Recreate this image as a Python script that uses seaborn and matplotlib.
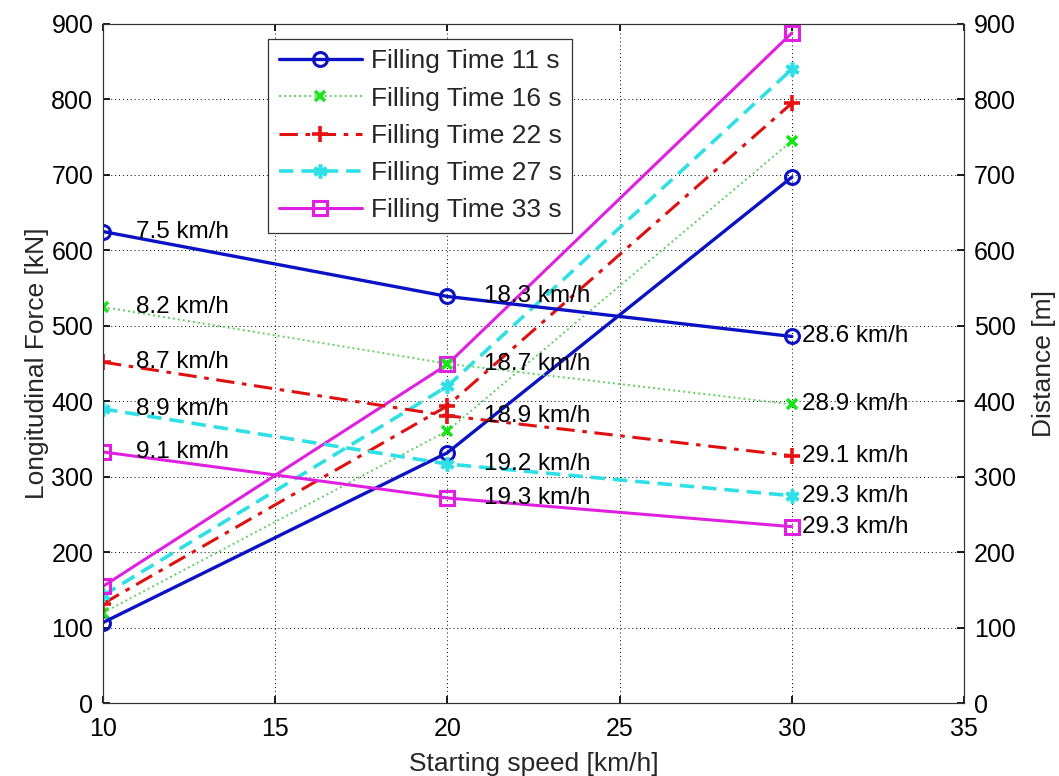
import matplotlib
matplotlib.use("Agg")
import matplotlib.pyplot as plt
import seaborn as sns
import pandas as pd

# Starting speeds [km/h]
speeds = [10, 20, 30]

# Filling times [s]
filling_times = [11, 16, 22, 27, 33]

# Longitudinal force [kN] per filling time
force_11 = [107, 332, 697]
force_16 = [120, 361, 745]
force_22 = [132, 394, 795]
force_27 = [143, 420, 840]
force_33 = [155, 449, 888]

# Stopping distance [m] per filling time
dist_11 = [625, 539, 486]
dist_16 = [525, 450, 396]
dist_22 = [452, 381, 328]
dist_27 = [390, 317, 275]
dist_33 = [333, 272, 234]

# Speed labels attached to the distance points [km/h]
speed_lbl_11 = ["7.5", "18.3", "28.6"]
speed_lbl_16 = ["8.2", "18.7", "28.9"]
speed_lbl_22 = ["8.7", "18.9", "29.1"]
speed_lbl_27 = ["8.9", "19.2", "29.3"]
speed_lbl_33 = ["9.1", "19.3", "29.3"]

forces = [force_11, force_16, force_22, force_27, force_33]
dists = [dist_11, dist_16, dist_22, dist_27, dist_33]
speed_lbls = [speed_lbl_11, speed_lbl_16, speed_lbl_22, speed_lbl_27, speed_lbl_33]

styles = [
    dict(color="#0b12c4", ls="-", lw=2.4, marker="o", ms=10, mfc="none", mew=2.2, mec="#0b12c4"),
    dict(color="#5fcf5f", ls=(0, (1, 1.6)), lw=1.4, marker="x", ms=7, mfc="none", mew=2.6, mec="#19e619"),
    dict(color="#e01010", ls=(0, (6, 2.5, 1.5, 2.5)), lw=2.2, marker="+", ms=12, mfc="none", mew=2.6, mec="#e81010"),
    dict(color="#2ee0e6", ls=(0, (4, 2.2)), lw=2.6, marker=(6, 2, 0), ms=10, mfc="#2ee0e6", mew=2.6, mec="#2ee0e6"),
    dict(color="#e020e0", ls="-", lw=2.2, marker="s", ms=10, mfc="none", mew=2.2, mec="#e020e0"),
]

sns.set_theme(style="white")
plt.rcParams["font.family"] = ["Liberation Sans", "DejaVu Sans"]
plt.rcParams["font.size"] = 18

fig = plt.figure(figsize=(10.59, 7.76), dpi=100)
ax = fig.add_axes([0.0973, 0.0937, 0.813, 0.8754])
ax2 = ax.twinx()

for ft, f, d, lbls, st in zip(filling_times, forces, dists, speed_lbls, styles):
    df = pd.DataFrame({"speed": speeds, "force": f, "dist": d})
    kw = dict(color=st["color"], linestyle=st["ls"], linewidth=st["lw"], marker=st["marker"],
              markersize=st["ms"], markerfacecolor=st["mfc"], markeredgewidth=st["mew"],
              markeredgecolor=st["mec"])
    sns.lineplot(data=df, x="speed", y="force", ax=ax, label=f"Filling Time {ft} s", **kw)
    sns.lineplot(data=df, x="speed", y="dist", ax=ax2, legend=False, **kw)
    for xs, ys, lb in zip(speeds, d, lbls):
        off = 0.3 if xs == 30 else (1.05 if xs == 20 else 0.95)
        ax2.text(xs + off, ys, f"{lb} km/h", fontsize=17.5, va="center", ha="left", color="black")

for a in (ax, ax2):
    a.set_xlim(10, 35)
    a.set_ylim(0, 900)
    a.set_yticks(range(0, 901, 100))
    a.tick_params(direction="in", length=5, labelsize=18, colors="black",
                  top=True, bottom=True)
    a.tick_params(axis="y", pad=7)
    a.tick_params(axis="x", pad=10)
    for s in a.spines.values():
        s.set_color("#333333")
        s.set_linewidth(0.8)

ax.set_xticks(range(10, 36, 5))
ax.tick_params(axis="y", left=True, right=False)
ax2.tick_params(axis="y", right=True, left=False)
ax.grid(True, color="black", linestyle=(0, (1, 3)), linewidth=0.7)

ax.set_xlabel("Starting speed [km/h]", fontsize=19, labelpad=8)
ax.set_ylabel("Longitudinal Force [kN]", fontsize=19, labelpad=2)
ax2.set_ylabel("Distance [m]", fontsize=19, labelpad=12)

handles, labels = ax.get_legend_handles_labels()
ax.get_legend().remove()
leg = ax2.legend(handles, labels, loc="upper left", bbox_to_anchor=(0.1916, 0.978),
                 fontsize=19, frameon=True, fancybox=False, framealpha=1,
                 edgecolor="#333333", handlelength=3.15, labelspacing=0.5,
                 borderpad=0.4, borderaxespad=0, handletextpad=0.35)
leg.get_frame().set_linewidth(0.9)

fig.savefig("out.png", dpi=100)
